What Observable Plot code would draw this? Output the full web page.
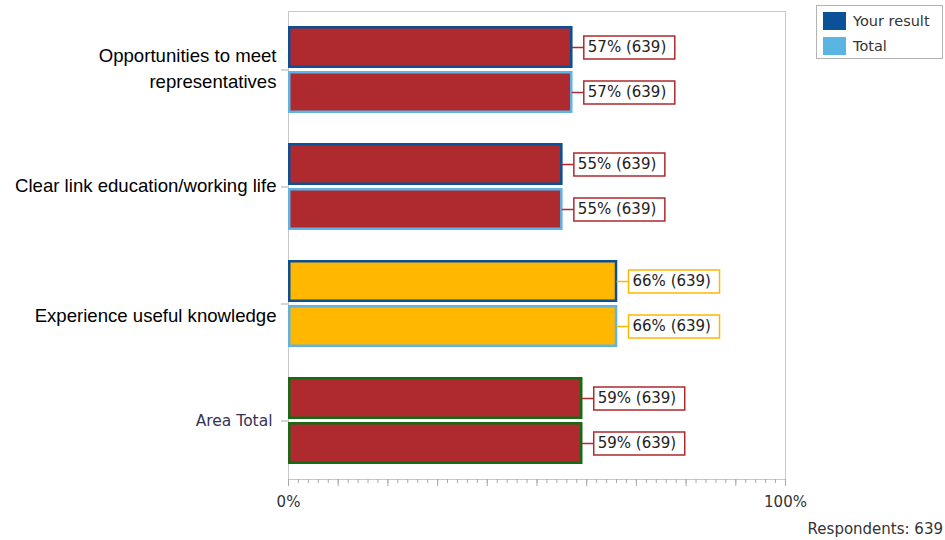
<!DOCTYPE html>
<html>
<head>
<meta charset="utf-8">
<script src="https://cdn.jsdelivr.net/npm/d3@7"></script>
<script src="https://cdn.jsdelivr.net/npm/@observablehq/plot@0.6"></script>
<style>
  html, body { margin: 0; padding: 0; background: #fff; }
  #wrap { position: relative; width: 945px; height: 540px; overflow: hidden; }
  #legend { position: absolute; left: 816px; top: 5px; width: 127px; height: 54px; border: 1px solid #b4b4b4;
            font-family: "DejaVu Sans", sans-serif; font-size: 14.5px; color: #333; box-sizing: border-box; }
  .lg { position: absolute; left: 6px; display: flex; align-items: center; }
  .sw { width: 23px; height: 18px; margin-right: 7px; }
  #caption { position: absolute; right: 2px; top: 520px; font-family: "DejaVu Sans", sans-serif; font-size: 15px; color: #333; }
</style>
</head>
<body>
<div id="wrap">
  <div id="chart"></div>
  <div id="legend"></div>
  <div id="caption"></div>
</div>
<script>
const categories = ["Opportunities to meet\nrepresentatives", "Clear link education/working life", "Experience useful knowledge", "Area Total"];
const series = ["Your result", "Total"];
const yourResult = [57, 55, 66, 59];
const total = [57, 55, 66, 59];
const counts = [639, 639, 639, 639];
const barColors = ["#ae2a2f", "#ae2a2f", "#ffb700", "#ae2a2f"];
const seriesColors = ["#0b4f96", "#5fb4e5"];
const areaTotalStroke = "#146b14";
const respondents = 639;
const xTicksMajor = [0, 10, 20, 30, 40, 50, 60, 70, 80, 90, 100];
const xTickLabels = [0, 100];

const rows = categories.flatMap((c, i) => series.map((s, j) => ({
  category: c,
  series: s,
  value: j === 0 ? yourResult[i] : total[i],
  n: counts[i],
  fill: barColors[i],
  stroke: c === "Area Total" ? areaTotalStroke : seriesColors[j]
})));

const labelBox = {
  draw(ctx) {
    ctx.moveTo(0, 0);
    ctx.lineTo(12, 0);
    ctx.moveTo(12, -11.5);
    ctx.lineTo(103, -11.5);
    ctx.lineTo(103, 11.5);
    ctx.lineTo(12, 11.5);
    ctx.closePath();
  }
};

const catFont = { frameAnchor: "left", dx: -12, textAnchor: "end", fontSize: 18.6, lineHeight: 1.35,
                  fontFamily: "Liberation Sans, Arial", fill: "#000" };

const chart = Plot.plot({
  width: 945,
  height: 540,
  marginLeft: 288,
  marginRight: 160,
  marginTop: 9,
  marginBottom: 60,
  style: { background: "transparent", color: "#333" },
  x: { domain: [0, 100], axis: null },
  y: { domain: series, axis: null, paddingInner: 0.065, paddingOuter: 0.31 },
  fy: { domain: categories, padding: 0, axis: null },
  color: { type: "identity" },
  marks: [
    Plot.frame({ facet: "super", stroke: "#c8c8c8" }),
    Plot.axisFy({ anchor: "left", tickSize: 7, tickFormat: () => "", label: null, stroke: "#aaa" }),
    Plot.axisX({ ticks: d3.range(0, 101, 2), tickSize: 4, tickFormat: () => "", label: null, stroke: "#aaa" }),
    Plot.axisX({ ticks: xTicksMajor, tickSize: 7, tickFormat: () => "", label: null, stroke: "#aaa" }),
    Plot.axisX({ ticks: xTickLabels, tickSize: 0, tickPadding: 17, tickFormat: d => d + "%", label: null,
                 fill: "#333", fontSize: 15, fontFamily: "DejaVu Sans" }),
    Plot.barX(rows, { fy: "category", y: "series", x: "value", fill: "fill", stroke: "stroke",
                      strokeWidth: 2.5, insetTop: 1.25, insetBottom: 1.25, insetLeft: 1.25 }),
    Plot.dot(rows, { fy: "category", y: "series", x: "value", symbol: labelBox, r: 5,
                     fill: "white", stroke: "fill", strokeWidth: 1.5 }),
    Plot.text(rows, { fy: "category", y: "series", x: "value", text: d => `${d.value}% (${d.n})`,
                      dx: 16, textAnchor: "start", fontSize: 15, fontFamily: "DejaVu Sans", fill: "#222" }),
    Plot.text(categories.slice(0, 2), { fy: d => d, text: d => d, dy: -3, ...catFont }),
    Plot.text(categories.slice(2, 3), { fy: d => d, text: d => d, dy: 10, ...catFont }),
    Plot.text(categories.slice(3), { fy: d => d, text: d => d, frameAnchor: "left", dx: -16,
                      textAnchor: "end", fontSize: 15.5, fontFamily: "DejaVu Sans", fill: "#333355" })
  ]
});
document.getElementById("chart").append(chart);

const legend = document.getElementById("legend");
series.forEach((s, j) => {
  const item = document.createElement("div");
  item.className = "lg";
  item.style.top = (6 + j * 25) + "px";
  item.innerHTML = `<div class="sw" style="background:${j === 0 ? "#0a5198" : "#5bb5e3"}"></div><span>${s}</span>`;
  legend.append(item);
});
document.getElementById("caption").textContent = "Respondents: " + respondents;
</script>
</body>
</html>
